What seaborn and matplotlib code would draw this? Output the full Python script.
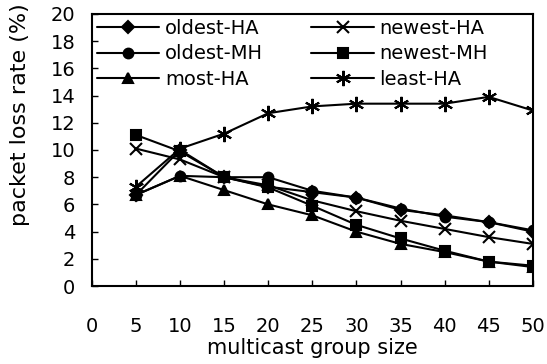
import matplotlib
matplotlib.use("Agg")
import matplotlib.pyplot as plt
import seaborn as sns
import pandas as pd

sizes = [5, 10, 15, 20, 25, 30, 35, 40, 45, 50]
oldest_ha = [6.7, 10.0, 8.0, 7.3, 6.9, 6.5, 5.6, 5.2, 4.7, 4.0]
newest_ha = [10.1, 9.3, 8.0, 7.4, 6.3, 5.5, 4.8, 4.2, 3.6, 3.1]
oldest_mh = [6.7, 8.1, 8.0, 8.0, 7.0, 6.5, 5.7, 5.1, 4.7, 4.1]
newest_mh = [11.1, 9.9, 8.0, 7.25, 5.9, 4.5, 3.5, 2.6, 1.8, 1.5]
most_ha = [6.7, 8.1, 7.05, 6.0, 5.2, 4.0, 3.1, 2.5, 1.8, 1.4]
least_ha = [7.3, 10.1, 11.2, 12.7, 13.2, 13.4, 13.4, 13.4, 13.9, 12.9]

series = {
    "oldest-HA": (oldest_ha, "D"),
    "newest-HA": (newest_ha, "x"),
    "oldest-MH": (oldest_mh, "o"),
    "newest-MH": (newest_mh, "s"),
    "most-HA": (most_ha, "^"),
    "least-HA": (least_ha, (6, 2, 0)),
}
msizes = {"D": 6, "x": 9, "o": 7, "s": 7, "^": 7}

rows = []
for name, (vals, _) in series.items():
    for s, v in zip(sizes, vals):
        rows.append({"size": s, "rate": v, "series": name})
df = pd.DataFrame(rows)

sns.set_theme(style="ticks")
plt.rcParams["font.family"] = ["DejaVu Sans"]
plt.rcParams["text.color"] = "black"
plt.rcParams["axes.labelcolor"] = "black"

fig = plt.figure(figsize=(5.47, 3.64), dpi=100)
ax = fig.add_axes([0.168, 0.214, 0.806, 0.748])

for name, (vals, mk) in series.items():
    sub = df[df["series"] == name]
    sns.lineplot(data=sub, x="size", y="rate", ax=ax, color="black",
                 marker=mk, markersize=msizes.get(mk, 11) if isinstance(mk, str) else 11,
                 markeredgewidth=1.5, markerfacecolor="black",
                 markeredgecolor="black", linewidth=1.5, label=name)

ax.set_xlim(0, 50)
ax.set_ylim(0, 20)
ax.set_xticks(range(0, 51, 5))
ax.set_yticks(range(0, 21, 2))
ax.tick_params(direction="in", labelsize=14, length=4, width=1,
               colors="black", labelcolor="black")
ax.tick_params(axis="x", pad=22)
ax.tick_params(axis="y", pad=12)
for sp in ax.spines.values():
    sp.set_linewidth(1.5)
    sp.set_color("black")

ax.set_xlabel("multicast group size", fontsize=15, labelpad=2)
ax.set_ylabel("packet loss rate (%)", fontsize=16)
ax.yaxis.set_label_coords(-0.14, 0.63)

handles, labels = ax.get_legend_handles_labels()
order = ["oldest-HA", "oldest-MH", "most-HA", "newest-HA", "newest-MH", "least-HA"]
hmap = dict(zip(labels, handles))
ax.legend([hmap[k] for k in order], order, ncol=2, loc="upper left",
          frameon=False, fontsize=14, handlelength=3.2, columnspacing=2.5,
          borderaxespad=0.05, labelspacing=0.35, handletextpad=0.3,
          borderpad=0.2)

fig.savefig("out.png", dpi=100)
